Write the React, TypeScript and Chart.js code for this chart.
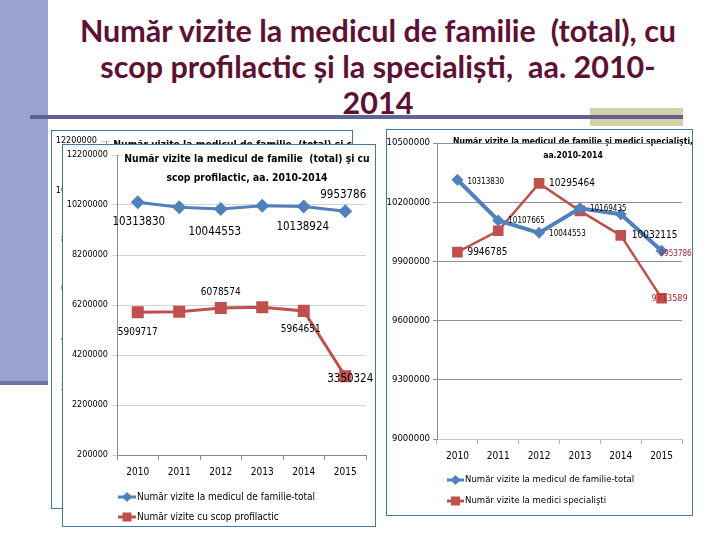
import React, { useEffect, useRef } from "react";
import { Chart, registerables } from "chart.js";
Chart.register(...registerables);

// ---- data ----
const years = ["2010", "2011", "2012", "2013", "2014", "2015"];
const familyTotal = [10313830, 10107665, 10044553, 10169435, 10138924, 9953786];
const prophylactic = [5909717, 5932000, 6078574, 6110000, 5964651, 3350324];
const specialists = [9946785, 10055000, 10295464, 10156000, 10032115, 9713589];
const leftAxis = [200000, 12200000, 2000000]; // min, max, step
const rightAxis = [9000000, 10500000, 300000];

const seriesNames = {
  family: "Număr vizite la medicul de familie-total",
  prophylactic: "Număr vizite cu scop profilactic",
  specialists: "Număr vizite la medici specialişti",
};
const leftTitle = ["Număr vizite la medicul de familie  (total) şi cu", "scop profilactic, aa. 2010-2014"];
const rightTitle = ["Număr vizite la medicul de familie şi medici specialişti,", "aa.2010-2014"];
const slideTitle = ["Număr vizite la medicul de familie  (total), cu", "scop profilactic și la specialiști,  aa. 2010-", "2014"];

const FONT = "'DejaVu Sans Condensed', 'Liberation Sans', sans-serif";
const BLUE = "#4f81bd";
const RED = "#c0504d";
const BOX = "#41799b";

// ---- plugins ----
function drawTitle(chart: any, opts: any) {
  const ctx = chart.ctx;
  ctx.save();
  ctx.font = `bold ${opts.size}px ${FONT}`;
  ctx.textAlign = "center";
  ctx.textBaseline = "middle";
  opts.lines.forEach((t: string, i: number) => {
    const y = opts.y + i * opts.lh;
    if (opts.bg) {
      const w = ctx.measureText(t).width;
      ctx.fillStyle = "#fff";
      ctx.fillRect(opts.x - w / 2 - 3, y - opts.lh / 2, w + 6, opts.lh);
    }
    ctx.fillStyle = "#000";
    ctx.fillText(t, opts.x, y);
  });
  ctx.restore();
}
const titlePlugin = {
  id: "boxTitle",
  beforeDraw(chart: any, _a: any, opts: any) {
    if (opts && opts.lines && opts.under) drawTitle(chart, opts);
  },
  beforeDatasetsDraw(chart: any, _a: any, opts: any) {
    if (opts && opts.lines && !opts.under) drawTitle(chart, opts);
  },
};

function marker(ctx: any, style: string, x: number, y: number, r: number, color: string) {
  ctx.fillStyle = color;
  ctx.beginPath();
  if (style === "rectRot") {
    ctx.moveTo(x, y - r);
    ctx.lineTo(x + r, y);
    ctx.lineTo(x, y + r);
    ctx.lineTo(x - r, y);
    ctx.closePath();
  } else {
    ctx.rect(x - r, y - r, 2 * r, 2 * r);
  }
  ctx.fill();
}

const legendPlugin = {
  id: "boxLegend",
  afterDraw(chart: any, _a: any, opts: any) {
    if (!opts || !opts.len) return;
    const { ctx, chartArea } = chart;
    const x0 = chartArea.left + opts.dx;
    chart.data.datasets.forEach((ds: any, i: number) => {
      const y = chartArea.bottom + opts.dy + i * opts.gap;
      ctx.save();
      ctx.strokeStyle = ds.borderColor;
      ctx.lineWidth = 3;
      ctx.beginPath();
      ctx.moveTo(x0, y);
      ctx.lineTo(x0 + opts.len, y);
      ctx.stroke();
      marker(ctx, ds.pointStyle, x0 + opts.len / 2, y, ds.pointStyle === "rectRot" ? 5 : 4.5, ds.borderColor);
      ctx.fillStyle = "#000";
      ctx.font = `${opts.size}px ${FONT}`;
      ctx.textAlign = "left";
      ctx.textBaseline = "middle";
      ctx.fillText(ds.label, x0 + opts.len + 1, y);
      ctx.restore();
    });
  },
};

const labelPlugin = {
  id: "pointLabels",
  afterDatasetsDraw(chart: any) {
    const ctx = chart.ctx;
    chart.data.datasets.forEach((ds: any, di: number) => {
      const meta = chart.getDatasetMeta(di);
      (ds.dl || []).forEach((l: any) => {
        const el = meta.data[l.i];
        if (!el) return;
        ctx.save();
        ctx.font = `${l.size}px ${FONT}`;
        ctx.fillStyle = l.color || "#000";
        ctx.textAlign = l.align || "center";
        ctx.textBaseline = "middle";
        ctx.fillText(String(ds.data[l.i]), el.x + l.dx, el.y + l.dy);
        ctx.restore();
      });
    });
  },
};

const plain = (v: any) => String(v);

// ---- configs ----
function leftConfig(): any {
  return {
    type: "line",
    data: {
      labels: years,
      datasets: [
        {
          label: seriesNames.family,
          data: familyTotal,
          borderColor: BLUE,
          backgroundColor: BLUE,
          borderWidth: 3,
          pointStyle: "rectRot",
          pointRadius: 7,
          pointBackgroundColor: BLUE,
          pointBorderWidth: 0,
          tension: 0,
          dl: [
            { i: 0, dx: 1, dy: 20, size: 11.5 },
            { i: 2, dx: -6, dy: 23, size: 11.5 },
            { i: 4, dx: -1, dy: 20, size: 11.5 },
            { i: 5, dx: -2, dy: -16, size: 11.5 },
          ],
        },
        {
          label: seriesNames.prophylactic,
          data: prophylactic,
          borderColor: RED,
          backgroundColor: RED,
          borderWidth: 3,
          pointStyle: "rect",
          pointRadius: 8.5,
          pointBackgroundColor: RED,
          pointBorderWidth: 0,
          tension: 0,
          dl: [
            { i: 0, dx: 0, dy: 20, size: 10 },
            { i: 2, dx: 0, dy: -16, size: 10 },
            { i: 4, dx: -3, dy: 19, size: 10 },
            { i: 5, dx: 5, dy: 3, size: 11.5 },
          ],
        },
      ],
    },
    options: {
      responsive: false,
      animation: false,
      layout: { padding: { top: 10, left: 0, right: 9, bottom: 41 } },
      scales: {
        x: {
          offset: true,
          afterFit: (a: any) => { a.height = 30; },
          grid: { display: true, offset: true, drawOnChartArea: false, drawTicks: true, tickLength: 5, color: "#8a8a8a" },
          border: { display: true, color: "#8a8a8a" },
          ticks: { color: "#000", font: { family: FONT, size: 10 }, padding: 6 },
        },
        y: {
          min: leftAxis[0],
          max: leftAxis[1],
          afterFit: (a: any) => { a.width = 54; },
          grid: { color: "#d4d4d4", tickLength: 5, drawTicks: true },
          border: { display: true, color: "#8a8a8a" },
          ticks: { stepSize: leftAxis[2], color: "#000", font: { family: FONT, size: 9 }, padding: 4, callback: plain },
        },
      },
      plugins: {
        legend: { display: false },
        tooltip: { enabled: false },
        title: { display: false },
        boxTitle: { lines: leftTitle, size: 10.3, x: 184, y: 14, lh: 19, bg: true },
        boxLegend: { dx: 1, dy: 42, gap: 20, len: 18, size: 10 },
      },
    },
    plugins: [titlePlugin, legendPlugin, labelPlugin],
  };
}

function rightConfig(): any {
  return {
    type: "line",
    data: {
      labels: years,
      datasets: [
        {
          label: seriesNames.family,
          data: familyTotal,
          borderColor: BLUE,
          backgroundColor: BLUE,
          borderWidth: 4,
          pointStyle: "rectRot",
          pointRadius: 6,
          pointBackgroundColor: BLUE,
          pointBorderWidth: 0,
          tension: 0,
          dl: [
            { i: 0, dx: 10, dy: 2, size: 8, align: "left" },
            { i: 1, dx: 10, dy: 1, size: 8, align: "left" },
            { i: 2, dx: 10, dy: 1, size: 8, align: "left" },
            { i: 3, dx: 10, dy: 1, size: 8, align: "left" },
            { i: 5, dx: -2, dy: 3, size: 8, align: "left", color: "#a3204c" },
          ],
        },
        {
          label: seriesNames.specialists,
          data: specialists,
          borderColor: RED,
          backgroundColor: RED,
          borderWidth: 2.5,
          pointStyle: "rect",
          pointRadius: 7.5,
          pointBackgroundColor: RED,
          pointBorderWidth: 0,
          tension: 0,
          dl: [
            { i: 0, dx: 10, dy: 0, size: 10, align: "left" },
            { i: 2, dx: 10, dy: 0, size: 10, align: "left" },
            { i: 4, dx: 11, dy: 0, size: 10, align: "left" },
            { i: 5, dx: -10, dy: 0, size: 9, align: "left", color: "#c0202a" },
          ],
        },
      ],
    },
    options: {
      responsive: false,
      animation: false,
      layout: { padding: { top: 13, left: 0, right: 10, bottom: 46 } },
      scales: {
        x: {
          offset: true,
          afterFit: (a: any) => { a.height = 30; },
          grid: { display: true, offset: true, drawOnChartArea: false, drawTicks: true, tickLength: 5, color: "#b0b0b0" },
          border: { display: true, color: "#c8c8c8" },
          ticks: { color: "#000", font: { family: FONT, size: 10 }, padding: 6 },
        },
        y: {
          min: rightAxis[0],
          max: rightAxis[1],
          afterFit: (a: any) => { a.width = 50; },
          grid: { color: "#8f8f8f", tickLength: 4, drawTicks: true },
          border: { display: true, color: "#8f8f8f" },
          ticks: { stepSize: rightAxis[2], color: "#000", font: { family: FONT, size: 9.5 }, padding: 3, callback: plain },
        },
      },
      plugins: {
        legend: { display: false },
        tooltip: { enabled: false },
        title: { display: false },
        boxTitle: { lines: rightTitle, size: 8.6, x: 186, y: 12, lh: 14, under: true },
        boxLegend: { dx: 10, dy: 41, gap: 21, len: 17, size: 9.5 },
      },
    },
    plugins: [titlePlugin, legendPlugin, labelPlugin],
  };
}

function ChartBox(props: { make: () => any; left: number; top: number; w: number; h: number }) {
  const ref = useRef<HTMLCanvasElement | null>(null);
  useEffect(() => {
    if (!ref.current) return;
    const c = new Chart(ref.current, props.make());
    return () => c.destroy();
  }, []);
  return (
    <div
      style={{
        position: "absolute",
        left: props.left,
        top: props.top,
        width: props.w,
        height: props.h,
        border: `1px solid ${BOX}`,
        background: "#fff",
        overflow: "hidden",
      }}
    >
      <canvas ref={ref} width={props.w} height={props.h} style={{ display: "block" }} />
    </div>
  );
}

export default function App() {
  useEffect(() => {
    document.body.style.margin = "0";
  }, []);
  return (
    <div style={{ position: "fixed", left: 0, top: 0, width: 720, height: 540, background: "#fff", overflow: "hidden" }}>
      <div style={{ position: "absolute", left: 0, top: 0, width: 48, height: 381, background: "#99a3cd" }} />
      <div style={{ position: "absolute", left: 0, top: 381, width: 48, height: 4, background: "#6e74a6" }} />
      <div
        style={{
          position: "absolute",
          left: 40,
          top: 12,
          width: 676,
          textAlign: "center",
          color: "#5e1035",
          fontFamily: "Lato, 'Open Sans', sans-serif",
          fontWeight: 700,
          fontSize: 30.5,
          lineHeight: "36px",
          whiteSpace: "pre",
        }}
      >
        {slideTitle.map((t, i) => (
          <div key={i}>{t}</div>
        ))}
      </div>
      <div style={{ position: "absolute", left: 590, top: 108, width: 93, height: 18, background: "#d4d2a6" }} />
      <div style={{ position: "absolute", left: 30, top: 115, width: 653, height: 4, background: "#60638f" }} />
      <ChartBox make={leftConfig} left={51} top={130} w={300} h={377} />
      <ChartBox make={leftConfig} left={62} top={144} w={312} h={381} />
      <ChartBox make={rightConfig} left={386} top={129} w={305} h={385} />
    </div>
  );
}
